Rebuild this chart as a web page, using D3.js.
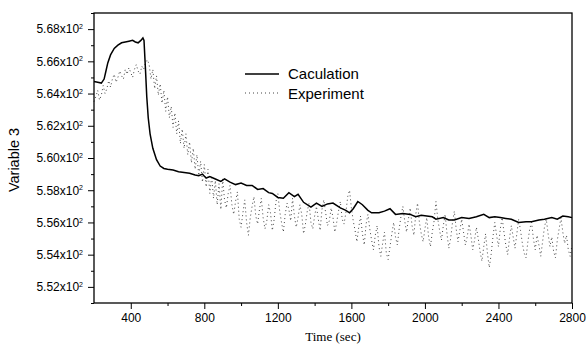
<!DOCTYPE html>
<html><head><meta charset="utf-8">
<script src="https://cdn.jsdelivr.net/npm/d3@7"></script>
<style>body{margin:0;background:#fff}svg{display:block}</style>
</head><body><svg id="c" width="587" height="349"></svg>
<script>
// Calculation series (time, value)
const calcTime = [200,220,240,255,265,275,290,310,330,350,370,390,410,425,440,455,466,472,480,487,495,505,520,540,560,580,600,630,660,690,720,750,770,790,810,830,860,890,910,940,970,1000,1030,1060,1090,1120,1150,1170,1200,1230,1260,1290,1310,1340,1380,1410,1440,1470,1500,1540,1570,1590,1610,1635,1660,1690,1710,1750,1780,1810,1840,1880,1920,1950,1980,2010,2040,2060,2100,2130,2160,2200,2240,2280,2320,2350,2380,2410,2440,2470,2510,2550,2580,2620,2650,2690,2720,2750,2780,2800];
const calcValue = [564.75,564.7,564.65,564.9,565.4,565.9,566.4,566.8,567.0,567.15,567.2,567.25,567.3,567.2,567.15,567.3,567.45,567.3,565.5,563.8,562.5,561.5,560.6,559.9,559.5,559.35,559.3,559.25,559.15,559.1,559.05,558.95,558.9,559.0,558.75,558.85,558.7,558.55,558.7,558.5,558.35,558.45,558.3,558.3,558.05,558.1,557.85,557.8,557.55,557.5,557.85,557.6,557.75,557.25,556.95,557.2,557.0,557.15,557.2,556.9,556.75,556.6,556.85,557.3,557.1,556.75,556.6,556.6,556.7,556.85,556.5,556.55,556.5,556.35,556.45,556.4,556.35,556.2,556.3,556.15,556.15,556.3,556.25,556.35,556.5,556.3,556.35,556.3,556.25,556.2,556.0,556.05,556.05,556.15,556.2,556.3,556.2,556.4,556.35,556.3];
// Experiment series: one value every 10 s from 200 to 2800
const expStart = 200, expStep = 10;
const expValue = [
563.5,563.8,564.2,563.6,563.9,564.5,564.0,564.3,564.8,564.4,
564.9,565.2,564.7,565.0,565.4,565.1,564.9,565.5,565.2,565.6,
565.3,565.0,565.5,565.8,565.4,565.2,565.7,565.5,565.9,566.1,
565.8,564.9,565.5,564.3,565.1,563.9,564.6,563.4,564.2,562.9,
563.8,562.5,563.2,561.9,562.8,561.5,562.3,560.9,561.8,560.6,
561.5,560.2,561.0,559.7,560.6,559.3,560.2,558.9,559.8,558.5,
559.6,558.2,559.3,557.8,558.9,557.5,558.6,557.1,558.4,556.8,
558.7,557.4,556.9,557.8,558.3,557.1,556.5,557.3,557.9,556.2,
555.7,556.6,557.4,556.0,555.2,556.3,557.0,557.6,556.4,555.9,
556.8,557.5,556.3,555.6,556.1,557.1,556.6,555.5,556.2,557.3,
557.8,556.7,556.0,555.4,556.5,557.2,556.8,556.1,557.5,556.4,
555.7,556.3,557.1,556.5,555.3,555.9,556.7,557.2,556.0,555.6,
556.4,557.0,556.2,555.5,556.8,557.4,556.6,555.8,556.1,556.9,
556.3,555.4,556.0,556.7,557.3,556.2,555.9,556.6,557.6,558.0,
556.9,556.1,555.5,554.8,555.7,556.4,555.3,554.6,555.9,556.5,
555.6,554.9,554.3,555.2,555.8,554.5,553.9,554.7,555.4,554.1,
553.7,554.5,555.3,556.0,555.1,554.6,555.6,556.4,557.0,556.1,
555.4,556.2,556.9,555.8,555.2,556.5,557.2,556.0,555.3,554.8,
555.6,556.3,555.1,554.5,555.4,556.1,557.3,556.2,555.5,554.9,
555.8,556.5,555.3,554.4,555.0,556.0,556.7,555.6,554.8,555.5,
556.2,555.4,554.6,555.1,555.9,555.2,554.3,554.9,555.7,555.0,
554.2,553.6,554.5,555.3,554.1,553.2,554.0,555.1,556.0,555.2,
554.5,555.6,556.3,555.4,554.6,554.0,555.0,555.8,555.1,554.4,
555.3,556.2,555.5,554.7,554.1,553.8,554.8,555.6,556.0,555.0,
554.3,555.2,554.6,553.9,554.8,555.7,556.2,555.3,554.5,555.1,
554.2,553.8,554.9,555.6,556.3,555.4,554.7,555.2,554.3,553.9,
554.6];
const xTicks = [400,800,1200,1600,2000,2400,2800];
const xMinorTicks = [600,1000,1400,1800,2200,2600];
const yTicks = [552,554,556,558,560,562,564,566,568];
const yMinorTicks = [551,553,555,557,559,561,563,565,567,569];
const seriesNames = ["Caculation","Experiment"];
const xTitle = "Time (sec)", yTitle = "Variable 3";

const svg = d3.select("#c");
const L = 94, R = 572, T = 13, B = 303;
const x = d3.scaleLinear().domain([200,2800]).range([L,R]);
const y = d3.scaleLinear().domain([551,569]).range([B,T]);

const calc = calcTime.map((t,i)=>[t,calcValue[i]]);
const exp = expValue.map((v,i)=>[expStart+i*expStep, v]);
const line = d3.line().x(d=>x(d[0])).y(d=>y(d[1]));

svg.append("path").datum(exp).attr("d",line).attr("fill","none")
  .attr("stroke","#444").attr("stroke-width",1).attr("stroke-dasharray","1,3");
svg.append("path").datum(calc).attr("d",line).attr("fill","none")
  .attr("stroke","#000").attr("stroke-width",1.5);

// frame
svg.append("rect").attr("x",L).attr("y",T).attr("width",R-L).attr("height",B-T)
  .attr("fill","none").attr("stroke","#000").attr("stroke-width",1.3);

const font = "'Liberation Sans', Arial, sans-serif";
// x axis
const gx = svg.append("g").attr("transform",`translate(0,${B})`)
  .call(d3.axisBottom(x).tickValues(xTicks).tickSize(6).tickPadding(4).tickFormat(d3.format("d")));
svg.append("g").attr("transform",`translate(0,${B})`)
  .call(d3.axisBottom(x).tickValues(xMinorTicks).tickSize(3).tickFormat(""));
// y axis
const gy = svg.append("g").attr("transform",`translate(${L},0)`)
  .call(d3.axisLeft(y).tickValues(yTicks).tickSize(6).tickPadding(4).tickFormat(""));
svg.append("g").attr("transform",`translate(${L},0)`)
  .call(d3.axisLeft(y).tickValues(yMinorTicks).tickSize(3).tickFormat(""));
svg.selectAll(".domain").remove();
svg.selectAll(".tick line").attr("stroke","#000").attr("stroke-width",1);
gx.selectAll("text").attr("font-family",font).attr("font-size",12).attr("fill","#000");
gy.selectAll(".tick").each(function(d){
  const t = d3.select(this).select("text").attr("font-family",font).attr("font-size",12)
    .attr("fill","#000").attr("x",-11).attr("dy","0.32em").text(null);
  t.append("tspan").text((d/100).toFixed(2)+"x10");
  t.append("tspan").attr("font-size",7).attr("dy","-0.6em").text("2");
});

// titles
svg.append("text").attr("x",(L+R)/2).attr("y",341).attr("text-anchor","middle")
  .attr("font-family","'Liberation Serif', 'Times New Roman', serif").attr("font-size",13).text(xTitle);
svg.append("text").attr("transform","translate(19,160) rotate(-90)").attr("text-anchor","middle")
  .attr("font-family",font).attr("font-size",14.5).text(yTitle);

// legend
const lg = svg.append("g");
lg.append("line").attr("x1",245).attr("x2",279).attr("y1",74).attr("y2",74).attr("stroke","#000").attr("stroke-width",1.5);
lg.append("line").attr("x1",245).attr("x2",279).attr("y1",93).attr("y2",93).attr("stroke","#444").attr("stroke-width",1).attr("stroke-dasharray","1,3");
lg.append("text").attr("x",288).attr("y",79).attr("font-family",font).attr("font-size",15).text(seriesNames[0]);
lg.append("text").attr("x",288).attr("y",98.5).attr("font-family",font).attr("font-size",15).text(seriesNames[1]);
</script></body></html>
